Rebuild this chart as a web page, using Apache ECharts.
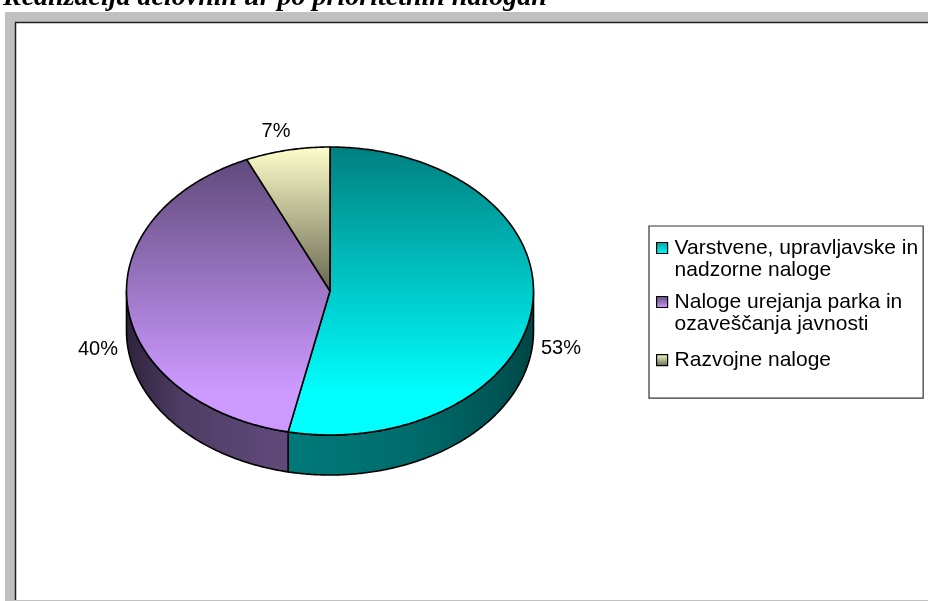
<!DOCTYPE html>
<html>
<head>
<meta charset="utf-8">
<style>html,body{margin:0;padding:0;background:#fff}#c{width:928px;height:601px}</style>
<script src="https://cdn.jsdelivr.net/npm/echarts@6/dist/echarts.min.js"></script>
</head>
<body>
<div id="c"></div>
<script>
const titleText = 'Realizacija delovnih ur po prioritetnih nalogah';
const categories = ['Varstvene, upravljavske in nadzorne naloge', 'Naloge urejanja parka in ozaveščanja javnosti', 'Razvojne naloge'];
const values = [53.3, 40, 6.7];
const legendLines = {
  [categories[0]]: ['Varstvene, upravljavske in', 'nadzorne naloge'],
  [categories[1]]: ['Naloge urejanja parka in', 'ozaveščanja javnosti'],
  [categories[2]]: ['Razvojne naloge']
};

const CX = 330, CY = 291, RX = 203.5, RY = 144, DEPTH = 40;
const total = values.reduce((a, b) => a + b, 0);
const grad = (stops, horizontal) => ({
  type: 'linear', x: 0, y: 0, x2: horizontal ? 1 : 0, y2: horizontal ? 0 : 1,
  colorStops: stops.map(s => ({ offset: s[0], color: s[1] }))
});
const topFill = [
  grad([[0, '#007f7f'], [0.86, '#00ffff'], [1, '#00ffff']]),
  grad([[0, '#604a7b'], [0.84, '#cc99ff'], [1, '#cc99ff']]),
  grad([[0, '#ffffcc'], [1, '#66664f']])
];
const sideFill = [
  grad([[0, '#007a7a'], [0.5, '#006c6c'], [0.85, '#005555'], [1, '#004545']], true),
  grad([[0, '#2e233c'], [0.35, '#4f3d65'], [1, '#604a7b']], true),
  grad([[0, '#66664f'], [1, '#66664f']], true)
];
const legendFill = [
  grad([[0, '#00a0a0'], [1, '#00ffff']]),
  grad([[0, '#604a7b'], [1, '#cc99ff']]),
  grad([[0, '#ffffcc'], [1, '#66664f']])
];
const pt = (deg, dy) => {
  const r = deg * Math.PI / 180;
  return [CX + RX * Math.sin(r), CY - RY * Math.cos(r) + (dy || 0)];
};
const arc = (a0, a1, dy) => {
  const n = Math.max(2, Math.ceil(Math.abs(a1 - a0) * 2));
  const out = [];
  for (let i = 0; i <= n; i++) out.push(pt(a0 + (a1 - a0) * i / n, dy));
  return out;
};
const labelPos = [[561, 348], [98, 349], [276, 131]];
const stroke = { stroke: '#000', lineWidth: 1.6, lineJoin: 'round' };

function makeRender(idx) {
  return function (params, api) {
    const before = values.slice(0, idx).reduce((a, b) => a + b, 0);
    const a0 = before / total * 360;
    const a1 = (before + api.value(0)) / total * 360;
    const children = [];
    const s0 = Math.max(a0, 90), s1 = Math.min(a1, 270);
    if (s1 > s0) {
      children.push({
        type: 'polygon',
        shape: { points: arc(s0, s1, 0).concat(arc(s1, s0, DEPTH)) },
        style: Object.assign({ fill: sideFill[idx] }, stroke)
      });
    }
    children.push({
      type: 'polygon',
      shape: { points: [[CX, CY]].concat(arc(a0, a1, 0)) },
      style: Object.assign({ fill: topFill[idx] }, stroke)
    });
    children.push({
      type: 'text',
      style: {
        x: labelPos[idx][0], y: labelPos[idx][1],
        text: Math.round(api.value(0)) + '%',
        align: 'center', verticalAlign: 'middle',
        fill: '#000', font: '20px "Liberation Sans"'
      }
    });
    return { type: 'group', children };
  };
}

const chart = echarts.init(document.getElementById('c'), null, { renderer: 'canvas' });
chart.setOption({
  animation: false,
  backgroundColor: '#fff',
  title: {
    text: titleText, left: 3, top: -16, padding: 0,
    textStyle: { fontFamily: '"Liberation Serif"', fontStyle: 'italic', fontWeight: 'bold', fontSize: 28, color: '#000' }
  },
  graphic: [
    { type: 'rect', z: 0, shape: { x: 5, y: 12, width: 923, height: 589 }, style: { fill: '#c0c0c0' } },
    { type: 'rect', z: 1, shape: { x: 15, y: 22, width: 913, height: 578 }, style: { fill: '#fff' } },
    { type: 'polyline', z: 1, shape: { points: [[15.5, 600], [15.5, 22.5], [928, 22.5]] }, style: { stroke: '#222', lineWidth: 1.5, fill: null } }
  ],
  legend: {
    orient: 'vertical', left: 649, top: 226,
    padding: [-11, 5, 1, 7],
    borderColor: '#333', borderWidth: 1.2, backgroundColor: '#fff',
    itemWidth: 11, itemHeight: 11, itemGap: -12,
    selectedMode: false, z: 5,
    textStyle: { fontFamily: '"Liberation Sans"', fontSize: 21, lineHeight: 22, color: '#000', padding: [0, 0, 0, 2],
      rich: { c: { fontFamily: '"Liberation Sans"', fontSize: 21, lineHeight: 24.7, color: '#000' } } },
    formatter: name => {
      const l = legendLines[name];
      return l.length > 1 ? '\n' + l.join('\n') : '{c| }\n{c|' + l[0] + '}\n{c| }';
    },
    data: categories.map((name, i) => ({
      name, icon: 'rect',
      itemStyle: { color: legendFill[i], borderColor: '#000', borderWidth: 1.2 }
    }))
  },
  tooltip: { show: false },
  series: categories.map((name, i) => ({
    type: 'custom', name, coordinateSystem: 'none', silent: true, clip: false,
    itemStyle: { color: legendFill[i] },
    data: [[values[i]]],
    renderItem: makeRender(i)
  }))
});
</script>
</body>
</html>
